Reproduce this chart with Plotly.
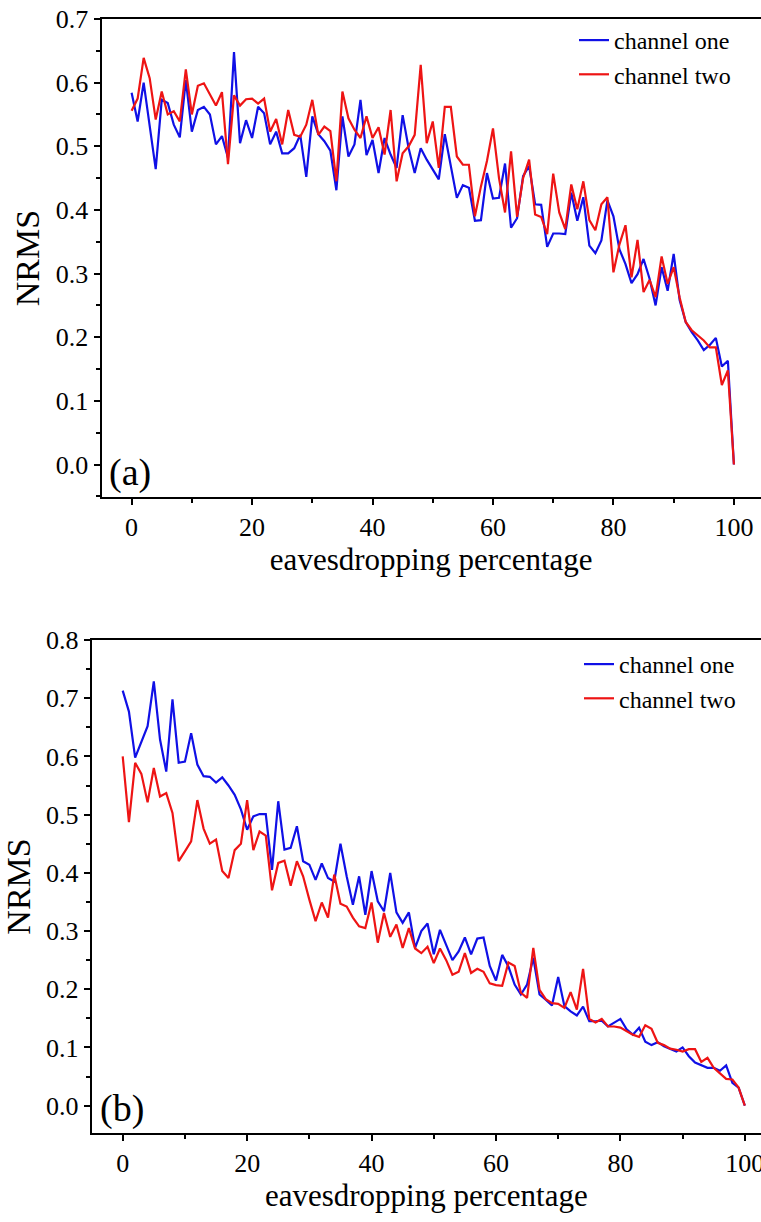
import plotly.graph_objects as go

pct = list(range(101))

a_one = [0.584, 0.539, 0.600, 0.533, 0.464, 0.573, 0.568, 0.534, 0.514, 0.604,
         0.523, 0.557, 0.562, 0.550, 0.503, 0.516, 0.482, 0.648, 0.505, 0.541,
         0.513, 0.562, 0.552, 0.503, 0.523, 0.489, 0.489, 0.497, 0.518, 0.452,
         0.547, 0.519, 0.508, 0.493, 0.431, 0.547, 0.484, 0.503, 0.573, 0.486,
         0.510, 0.458, 0.513, 0.487, 0.466, 0.549, 0.497, 0.458, 0.497, 0.479,
         0.463, 0.448, 0.519, 0.471, 0.419, 0.439, 0.435, 0.383, 0.384, 0.458,
         0.418, 0.419, 0.473, 0.372, 0.387, 0.453, 0.469, 0.409, 0.408, 0.342,
         0.363, 0.363, 0.362, 0.427, 0.383, 0.420, 0.344, 0.332, 0.352, 0.415,
         0.390, 0.338, 0.315, 0.285, 0.299, 0.323, 0.292, 0.250, 0.310, 0.273,
         0.331, 0.258, 0.224, 0.208, 0.195, 0.180, 0.188, 0.199, 0.154, 0.163,
         0.0]

a_two = [0.556, 0.575, 0.639, 0.607, 0.542, 0.586, 0.550, 0.555, 0.539, 0.621,
         0.550, 0.595, 0.599, 0.581, 0.564, 0.585, 0.472, 0.580, 0.564, 0.574,
         0.575, 0.567, 0.575, 0.523, 0.543, 0.503, 0.557, 0.518, 0.515, 0.534,
         0.573, 0.518, 0.531, 0.524, 0.445, 0.586, 0.544, 0.526, 0.513, 0.547,
         0.513, 0.530, 0.487, 0.557, 0.445, 0.489, 0.500, 0.518, 0.628, 0.505,
         0.539, 0.466, 0.562, 0.562, 0.484, 0.471, 0.471, 0.390, 0.437, 0.477,
         0.528, 0.450, 0.396, 0.492, 0.389, 0.450, 0.479, 0.393, 0.389, 0.362,
         0.457, 0.396, 0.370, 0.440, 0.401, 0.445, 0.384, 0.368, 0.409, 0.420,
         0.302, 0.346, 0.376, 0.294, 0.353, 0.271, 0.290, 0.263, 0.327, 0.284,
         0.310, 0.262, 0.224, 0.211, 0.203, 0.195, 0.184, 0.184, 0.125, 0.148,
         0.0]

b_one = [0.713, 0.677, 0.598, 0.626, 0.652, 0.729, 0.629, 0.574, 0.698, 0.589,
         0.591, 0.640, 0.586, 0.566, 0.565, 0.555, 0.564, 0.550, 0.534, 0.509,
         0.474, 0.497, 0.501, 0.501, 0.405, 0.523, 0.440, 0.443, 0.480, 0.420,
         0.414, 0.388, 0.416, 0.391, 0.385, 0.450, 0.394, 0.345, 0.394, 0.328,
         0.403, 0.351, 0.334, 0.400, 0.332, 0.314, 0.332, 0.271, 0.300, 0.313,
         0.260, 0.302, 0.277, 0.250, 0.265, 0.289, 0.260, 0.287, 0.289, 0.240,
         0.215, 0.259, 0.239, 0.208, 0.191, 0.208, 0.254, 0.191, 0.182, 0.172,
         0.221, 0.171, 0.162, 0.155, 0.170, 0.145, 0.145, 0.146, 0.136, 0.143,
         0.149, 0.131, 0.122, 0.134, 0.110, 0.104, 0.109, 0.102, 0.098, 0.093,
         0.100, 0.085, 0.074, 0.069, 0.065, 0.065, 0.060, 0.069, 0.039, 0.031,
         0.0]

b_two = [0.600, 0.487, 0.589, 0.570, 0.521, 0.580, 0.531, 0.537, 0.503, 0.420,
         0.437, 0.454, 0.525, 0.476, 0.450, 0.457, 0.403, 0.391, 0.439, 0.450,
         0.525, 0.439, 0.471, 0.464, 0.370, 0.417, 0.421, 0.378, 0.420, 0.394,
         0.354, 0.317, 0.349, 0.323, 0.397, 0.347, 0.342, 0.323, 0.308, 0.305,
         0.349, 0.280, 0.331, 0.290, 0.311, 0.271, 0.305, 0.270, 0.262, 0.273,
         0.245, 0.270, 0.250, 0.225, 0.230, 0.262, 0.228, 0.235, 0.230, 0.210,
         0.207, 0.206, 0.246, 0.240, 0.194, 0.185, 0.271, 0.199, 0.183, 0.176,
         0.175, 0.168, 0.195, 0.165, 0.235, 0.149, 0.143, 0.149, 0.136, 0.136,
         0.134, 0.128, 0.122, 0.118, 0.138, 0.132, 0.108, 0.104, 0.098, 0.096,
         0.093, 0.097, 0.097, 0.075, 0.082, 0.065, 0.056, 0.046, 0.045, 0.031,
         0.0]

series_names = ["channel one", "channel two"]
panel_labels = ["(a)", "(b)"]
x_title = "eavesdropping percentage"
y_title = "NRMS"

BLUE = "#1010E6"
RED = "#EE1414"
FONT = "Liberation Serif, Times New Roman, serif"
W, H = 761, 1222

fig = go.Figure()
fig.add_trace(go.Scatter(x=pct, y=a_one, mode="lines", name=series_names[0],
                         line=dict(color=BLUE, width=2.2), xaxis="x", yaxis="y", legend="legend"))
fig.add_trace(go.Scatter(x=pct, y=a_two, mode="lines", name=series_names[1],
                         line=dict(color=RED, width=2.2), xaxis="x", yaxis="y", legend="legend"))
fig.add_trace(go.Scatter(x=pct, y=b_one, mode="lines", name=series_names[0],
                         line=dict(color=BLUE, width=2.2), xaxis="x2", yaxis="y2", legend="legend2"))
fig.add_trace(go.Scatter(x=pct, y=b_two, mode="lines", name=series_names[1],
                         line=dict(color=RED, width=2.2), xaxis="x2", yaxis="y2", legend="legend2"))

def xax(domain, rng, anchor, standoff):
    return dict(domain=domain, range=rng, anchor=anchor, automargin=False,
                showline=True, linecolor="black", linewidth=2, mirror=True,
                ticks="outside", ticklen=6, tickwidth=1.5, tickcolor="black",
                tick0=0, dtick=20, ticklabeloverflow="allow",
                minor=dict(ticks="outside", ticklen=4, tickwidth=1.5, tickcolor="black", dtick=10),
                showgrid=False, zeroline=False,
                tickfont=dict(family=FONT, size=26, color="black"),
                title=dict(text=x_title, font=dict(family=FONT, size=31, color="black"), standoff=standoff))

def yax(domain, rng, anchor, dtick, standoff):
    return dict(domain=domain, range=rng, anchor=anchor, automargin=False,
                showline=True, linecolor="black", linewidth=2,
                ticks="outside", ticklen=6, tickwidth=1.5, tickcolor="black",
                tick0=0, dtick=dtick, tickformat=".1f", ticklabeloverflow="allow",
                minor=dict(ticks="outside", ticklen=4, tickwidth=1.5, tickcolor="black", dtick=dtick / 2),
                showgrid=False, zeroline=False,
                tickfont=dict(family=FONT, size=26, color="black"),
                title=dict(text=y_title, font=dict(family=FONT, size=34, color="black"), standoff=standoff))

fig.update_layout(
    width=W, height=H,
    margin=dict(l=0, r=0, t=0, b=0, autoexpand=False),
    paper_bgcolor="white", plot_bgcolor="white",
    xaxis=xax([101.5 / W, 1.0], [-5, 104.5], "y", 3),
    yaxis=yax([(H - 497) / H, (H - 19) / H], [-0.051, 0.7], "x", 0.1, 6),
    xaxis2=xax([91.6 / W, 1.0], [-5, 102.6], "y2", 3),
    yaxis2=yax([(H - 1133) / H, (H - 640) / H], [-0.047, 0.8], "x2", 0.1, 6),
    legend=dict(x=574 / W, y=(H - 18) / H, xanchor="left", yanchor="top",
                bgcolor="rgba(0,0,0,0)", font=dict(family=FONT, size=24, color="black"),
                tracegroupgap=0),
    legend2=dict(x=579 / W, y=(H - 642) / H, xanchor="left", yanchor="top",
                 bgcolor="rgba(0,0,0,0)", font=dict(family=FONT, size=24, color="black"),
                 tracegroupgap=0),
    annotations=[
        dict(text=panel_labels[0], x=130 / W, y=(H - 472) / H, xref="paper", yref="paper",
             xanchor="center", yanchor="middle",
             showarrow=False, font=dict(family=FONT, size=38, color="black")),
        dict(text=panel_labels[1], x=122 / W, y=(H - 1108) / H, xref="paper", yref="paper",
             xanchor="center", yanchor="middle",
             showarrow=False, font=dict(family=FONT, size=38, color="black")),
    ],
)

fig.write_html("out.html", config={"displayModeBar": False},
               post_script="document.body.style.margin='0';")
